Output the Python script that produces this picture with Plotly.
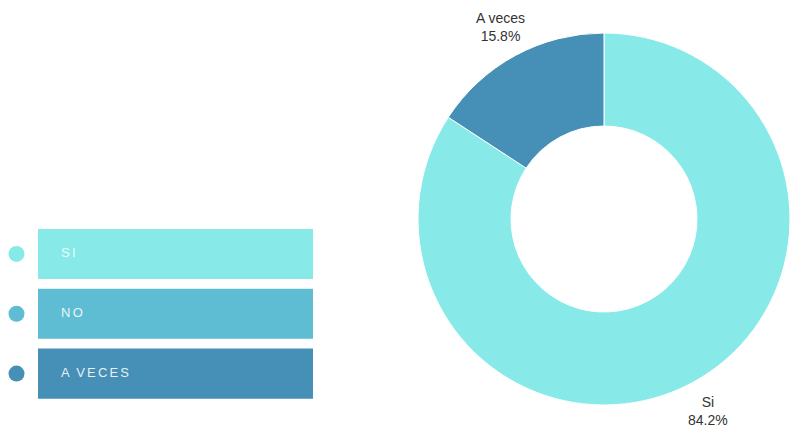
import math
import plotly.graph_objects as go

# Survey answers and their counts
categories = ["Si", "No", "A veces"]
legend_labels = ["SI", "NO", "A VECES"]
counts = [16, 0, 3]
colors = ["#87EAE8", "#5FBDD3", "#4690B7"]

W, H = 790, 427
LABEL_FONT = "Liberation Sans, Arial, sans-serif"
PIE_DOMAIN_X = [0.5291, 1.0]
PIE_DOMAIN_Y = [0.0515, 0.9227]


def spaced(text):
    # wide letter spacing for the legend captions
    out = ""
    for i, ch in enumerate(text):
        if ch == " ":
            out += "\u2002"
            continue
        out += ch
        if i < len(text) - 1 and text[i + 1] != " ":
            out += "\u200a\u200a"
    return out


fig = go.Figure()

# Donut chart (only answers with a non-zero count get a slice)
pie_labels = [c for c, n in zip(categories, counts) if n > 0]
pie_values = [n for n in counts if n > 0]
pie_colors = [col for col, n in zip(colors, counts) if n > 0]

fig.add_trace(go.Pie(
    labels=pie_labels,
    values=pie_values,
    hole=0.5,
    sort=False,
    direction="clockwise",
    rotation=0,
    marker=dict(colors=pie_colors, line=dict(color="white", width=1)),
    textinfo="none",
    domain=dict(x=PIE_DOMAIN_X, y=PIE_DOMAIN_Y),
    showlegend=False,
))

# Outside slice labels, placed along each slice's mid-angle
dom_w = (PIE_DOMAIN_X[1] - PIE_DOMAIN_X[0]) * W
dom_h = (PIE_DOMAIN_Y[1] - PIE_DOMAIN_Y[0]) * H
radius = min(dom_w, dom_h) / 2
cx = (PIE_DOMAIN_X[0] + PIE_DOMAIN_X[1]) / 2 * W
cy = (PIE_DOMAIN_Y[0] + PIE_DOMAIN_Y[1]) / 2 * H
label_r = radius + 32
total = sum(pie_values)
cum = 0
for lab, val in zip(pie_labels, pie_values):
    mid = (cum + val / 2) / total * 2 * math.pi  # clockwise from 12 o'clock
    cum += val
    lx = cx + label_r * math.sin(mid)
    ly = cy + label_r * math.cos(mid)
    fig.add_annotation(
        x=lx / W, y=ly / H, xref="paper", yref="paper",
        xanchor="center", yanchor="middle",
        text=f"{lab}<br>{val / total * 100:.1f}%",
        showarrow=False,
        font=dict(family=LABEL_FONT, size=14, color="#333333"),
    )

# Legend panel drawn as full-width bars with captions
fig.add_trace(go.Bar(
    x=[1] * len(legend_labels),
    y=legend_labels,
    orientation="h",
    width=0.837,
    marker=dict(color=colors, line=dict(width=0)),
    xaxis="x2", yaxis="y2",
    showlegend=False,
    hoverinfo="skip",
))
fig.add_trace(go.Scatter(
    x=[0.084] * len(legend_labels),
    y=legend_labels,
    mode="text",
    text=[spaced(t) for t in legend_labels],
    textposition="middle right",
    textfont=dict(family=LABEL_FONT, size=13, color="rgba(255,255,255,0.88)"),
    xaxis="x2", yaxis="y2",
    showlegend=False,
    hoverinfo="skip",
    cliponaxis=False,
))
# Colour dots to the left of the legend bars
fig.add_trace(go.Scatter(
    x=[0.5] * len(legend_labels),
    y=legend_labels,
    mode="markers",
    marker=dict(color=colors, size=16, line=dict(width=0)),
    xaxis="x3", yaxis="y2",
    showlegend=False,
    hoverinfo="skip",
    cliponaxis=False,
))

hidden = dict(visible=False, showgrid=False, zeroline=False, fixedrange=True)
fig.update_layout(
    width=W, height=H,
    margin=dict(l=0, r=0, t=0, b=0),
    paper_bgcolor="white",
    plot_bgcolor="rgba(0,0,0,0)",
    xaxis2=dict(domain=[0.0481, 0.3962], range=[0, 1], **hidden),
    xaxis3=dict(domain=[0.0, 0.0418], range=[0, 1], **hidden),
    yaxis2=dict(domain=[0.0550, 0.4754], range=[2.5, -0.5], anchor="x2",
                categoryorder="array", categoryarray=legend_labels, **hidden),
    xaxis=dict(visible=False),
    yaxis=dict(visible=False),
)

fig.write_html("out.html")
